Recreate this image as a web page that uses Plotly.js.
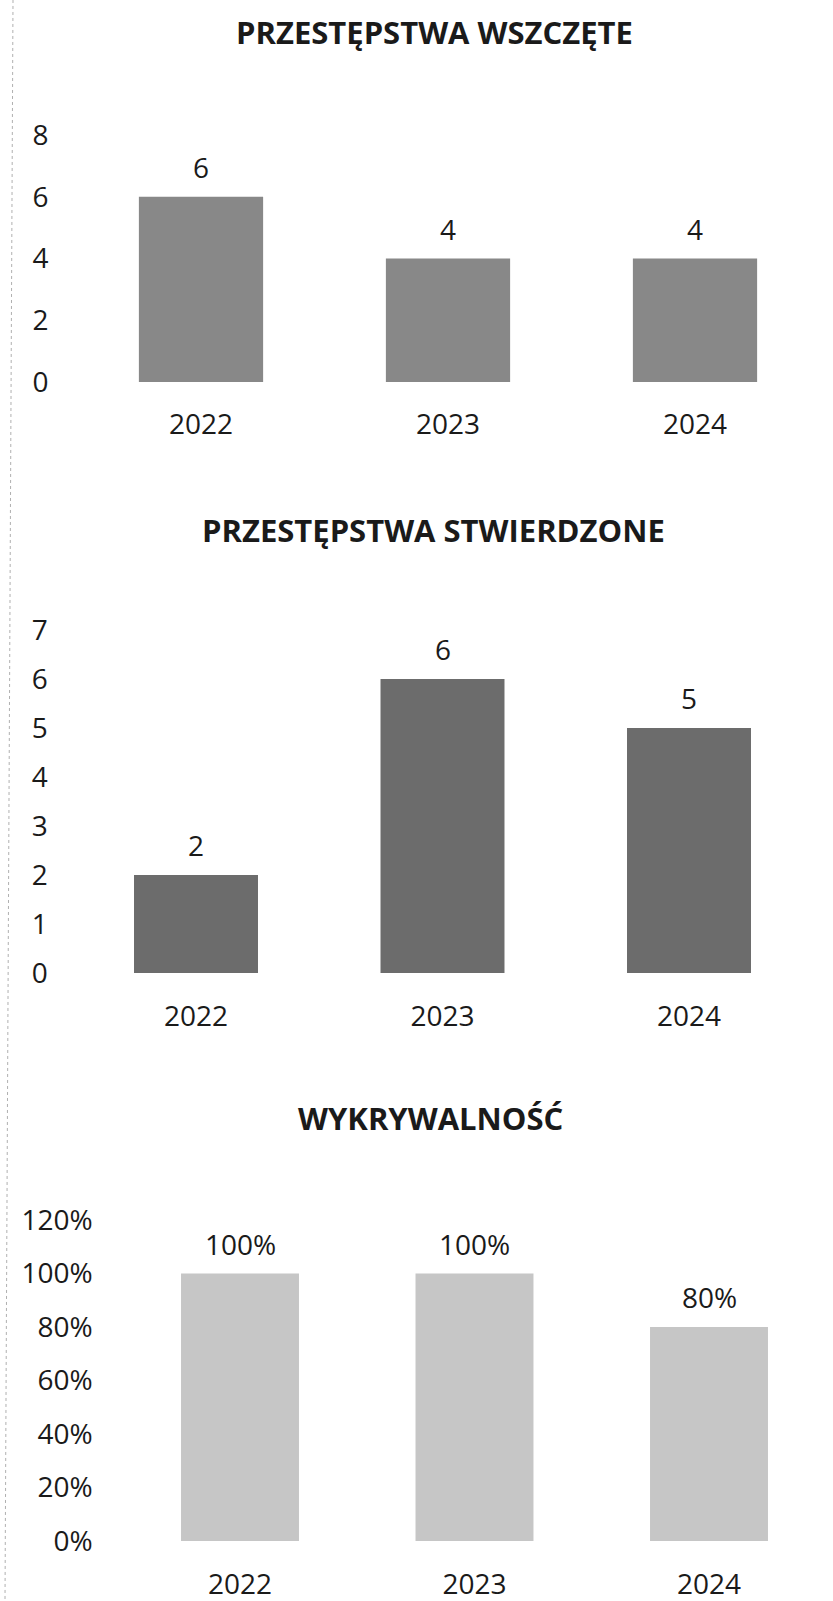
<!DOCTYPE html>
<html>
<head>
<meta charset="utf-8">
<script src="https://cdn.plot.ly/plotly-3.0.1.min.js"></script>
<style>html,body{margin:0;padding:0;background:#fff;}#chart{width:833px;height:1601px;}</style>
</head>
<body>
<div id="chart"></div>
<script>
// ---- data ----
const years = ['2022', '2023', '2024'];
const wszczete = [6, 4, 4];
const stwierdzone = [2, 6, 5];
const wykrywalnosc = [1.0, 1.0, 0.8];
const titles = ['PRZESTĘPSTWA WSZCZĘTE', 'PRZESTĘPSTWA STWIERDZONE', 'WYKRYWALNOŚĆ'];

// ---- styling ----
const FONT = 'Open Sans, Noto Sans, sans-serif';
const TXT = '#1a1a1a';
const W = 833, H = 1601;
const px = v => v / W;
const py = v => 1 - v / H;

const colors = ['#888888', '#6c6c6c', '#c6c6c6'];

const traces = [
  {type: 'bar', x: years, y: wszczete, xaxis: 'x', yaxis: 'y', marker: {color: colors[0]}, hoverinfo: 'none'},
  {type: 'bar', x: years, y: stwierdzone, xaxis: 'x2', yaxis: 'y2', marker: {color: colors[1]}, hoverinfo: 'none'},
  {type: 'bar', x: years, y: wykrywalnosc, xaxis: 'x3', yaxis: 'y3', marker: {color: colors[2]}, hoverinfo: 'none'}
];

const tickFont = {family: FONT, size: 28, color: TXT};

function xa(domain, anchor, standoff) {
  return {domain: domain, anchor: anchor, type: 'category', range: [-0.5, 2.5],
    showgrid: false, zeroline: false, showline: false, ticks: '',
    tickfont: tickFont, ticklabelstandoff: standoff, fixedrange: true};
}
function ya(domain, anchor, range, dtick, fmt, standoff) {
  const o = {domain: domain, anchor: anchor, range: range, dtick: dtick, tick0: 0,
    showgrid: false, zeroline: false, showline: false, ticks: '',
    tickfont: tickFont, ticklabelstandoff: standoff, fixedrange: true};
  if (fmt) o.tickformat = fmt;
  return o;
}

const annotations = [];
const titleY = [32, 530, 1118];
const titleX = [435, 433, 430];
titles.forEach((t, i) => {
  annotations.push({text: '<b>' + t + '</b>', xref: 'paper', yref: 'paper',
    x: px(titleX[i]), y: py(titleY[i]), xanchor: 'center', yanchor: 'middle',
    showarrow: false, font: {family: FONT, size: 31, color: TXT}});
});
function labels(vals, xref, yref, fmt) {
  vals.forEach((v, i) => {
    annotations.push({text: fmt(v), x: i, y: v, xref: xref, yref: yref,
      xanchor: 'center', yanchor: 'middle', yshift: 30, showarrow: false,
      font: {family: FONT, size: 28, color: TXT}});
  });
}
labels(wszczete, 'x', 'y', v => String(v));
labels(stwierdzone, 'x2', 'y2', v => String(v));
labels(wykrywalnosc, 'x3', 'y3', v => Math.round(v * 100) + '%');

const layout = {
  width: W, height: H,
  margin: {l: 0, r: 0, t: 0, b: 0},
  paper_bgcolor: '#fff', plot_bgcolor: '#fff',
  showlegend: false,
  bargap: 0.497,
  font: {family: FONT, color: TXT},
  xaxis: xa([px(77.5), px(818.5)], 'y', 23),
  yaxis: ya([py(382), py(135)], 'x', [0, 8], 2, null, 28),
  xaxis2: xa([px(72.75), px(812.25)], 'y2', 24),
  yaxis2: ya([py(973), py(630)], 'x2', [0, 7], 1, null, 24),
  xaxis3: xa([px(122.75), px(826.25)], 'y3', 24),
  yaxis3: ya([py(1541), py(1220)], 'x3', [0, 1.2], 0.2, '.0%', 29),
  annotations: annotations,
  shapes: [
    {type: 'line', xref: 'paper', yref: 'paper', x0: px(13), x1: px(5), y0: 1, y1: 0,
      line: {color: '#b0b0b0', width: 1, dash: 'dot'}}
  ]
};

Plotly.newPlot('chart', traces, layout, {staticPlot: true, displayModeBar: false});
</script>
</body>
</html>
